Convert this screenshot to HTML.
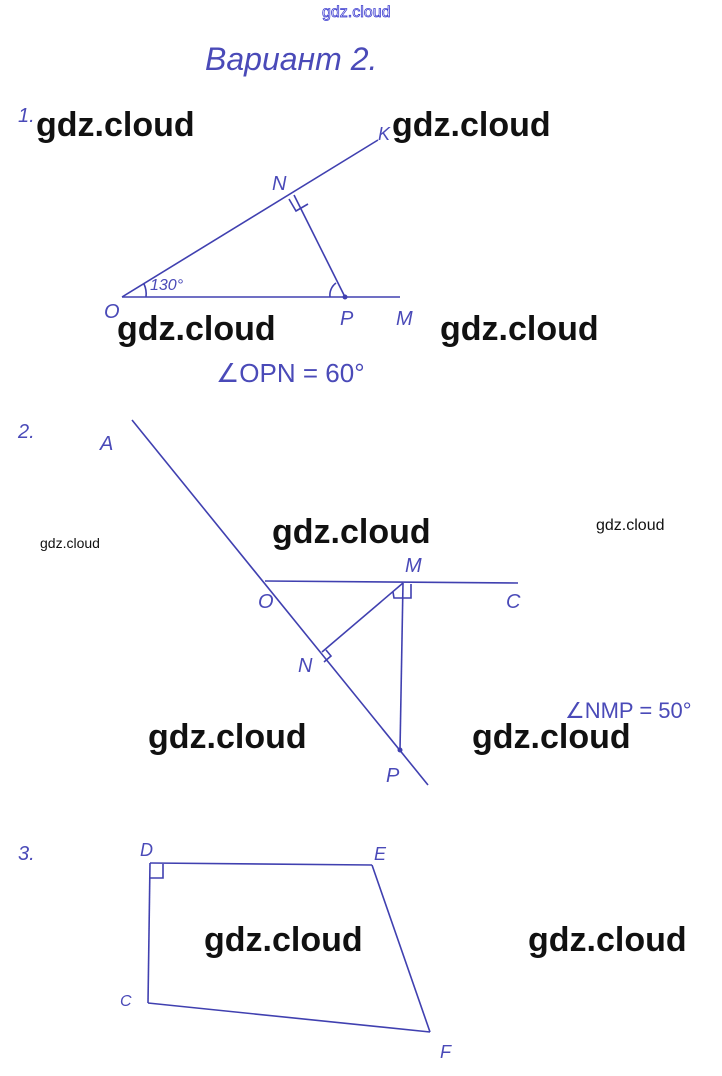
<!DOCTYPE html>
<html><head><meta charset="utf-8"><style>
html,body{margin:0;padding:0;background:#fff;}
svg{display:block}
.w{font-family:"Liberation Sans",sans-serif;font-weight:bold;font-size:34px;fill:#111;}
.h{font-family:"Liberation Sans",sans-serif;fill:#4a4ab8;font-style:italic;}
</style></head><body>
<svg width="722" height="1076" viewBox="0 0 722 1076" xmlns="http://www.w3.org/2000/svg">
<g stroke="#4040b0" stroke-width="1.6" fill="none">
<!-- fig1 -->
<line x1="122" y1="297" x2="378" y2="140"/>
<line x1="122" y1="297" x2="400" y2="297"/>
<line x1="294" y1="195" x2="345" y2="297"/>
<polyline points="289,199 296,211 308,204"/>
<path d="M330,297 A15,15 0 0 1 336,283"/>
<path d="M146,297 A24,24 0 0 0 144,284"/>
<!-- fig2 -->
<line x1="132" y1="420" x2="428" y2="785"/>
<line x1="265" y1="581" x2="518" y2="583"/>
<line x1="403" y1="583" x2="400" y2="750"/>
<line x1="322" y1="652" x2="403" y2="583"/>
<polyline points="393,592 394,598 411,598 411,584"/>
<polyline points="326,650 331,656 324,662"/>
<!-- fig3 -->
<line x1="150" y1="863" x2="372" y2="865"/>
<line x1="372" y1="865" x2="430" y2="1032"/>
<line x1="430" y1="1032" x2="148" y2="1003"/>
<line x1="148" y1="1003" x2="150" y2="863"/>
<polyline points="150,878 163,878 163,864"/>
</g>
<circle cx="345" cy="297" r="2.5" fill="#4040b0"/>
<circle cx="400" cy="750" r="2.5" fill="#4040b0"/>
<g class="h">
<text x="205" y="70" font-size="32">Вариант 2.</text>
<text x="18" y="122" font-size="20">1.</text>
<text x="378" y="140" font-size="18">K</text>
<text x="272" y="190" font-size="20">N</text>
<text x="104" y="318" font-size="20">O</text>
<text x="150" y="290" font-size="16">130°</text>
<text x="340" y="325" font-size="20">P</text>
<text x="396" y="325" font-size="20">M</text>
<text x="216" y="382" font-size="26" font-style="normal">∠OPN = 60°</text>
<text x="18" y="438" font-size="20">2.</text>
<text x="100" y="450" font-size="20">A</text>
<text x="258" y="608" font-size="20">O</text>
<text x="405" y="572" font-size="20">M</text>
<text x="506" y="608" font-size="20">C</text>
<text x="298" y="672" font-size="20">N</text>
<text x="386" y="782" font-size="20">P</text>
<text x="565" y="718" font-size="22" font-style="normal">∠NMP = 50°</text>
<text x="18" y="860" font-size="20">3.</text>
<text x="140" y="856" font-size="18">D</text>
<text x="374" y="860" font-size="18">E</text>
<text x="440" y="1058" font-size="18">F</text>
<text x="120" y="1006" font-size="16">C</text>
</g>
<text x="322" y="17" font-family="Liberation Sans,sans-serif" font-size="16" fill="#fff" stroke="#4040d0" stroke-width="0.8">gdz.cloud</text>
<g class="w">
<text x="36" y="136">gdz.cloud</text>
<text x="392" y="136">gdz.cloud</text>
<text x="117" y="340">gdz.cloud</text>
<text x="440" y="340">gdz.cloud</text>
<text x="272" y="543">gdz.cloud</text>
<text x="148" y="748">gdz.cloud</text>
<text x="472" y="748">gdz.cloud</text>
<text x="204" y="951">gdz.cloud</text>
<text x="528" y="951">gdz.cloud</text>
<text x="40" y="548" style="font-size:14px;font-weight:normal">gdz.cloud</text>
<text x="596" y="530" style="font-size:16px;font-weight:normal">gdz.cloud</text>
</g>
</svg>
</body></html>
